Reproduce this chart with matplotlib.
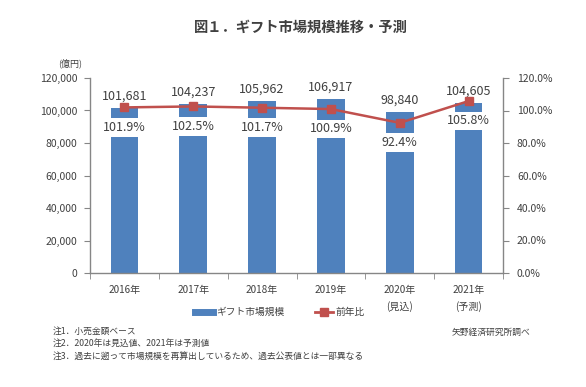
import matplotlib
matplotlib.use("Agg")
import matplotlib.pyplot as plt
from matplotlib.lines import Line2D
from matplotlib.ticker import FuncFormatter, MultipleLocator, FixedLocator

plt.rcParams['font.family'] = ['Noto Sans CJK JP', 'DejaVu Sans']

# データ
years = ['2016年', '2017年', '2018年', '2019年', '2020年\n(見込)', '2021年\n(予測)']
market = [101681, 104237, 105962, 106917, 98840, 104605]
ratio = [101.9, 102.5, 101.7, 100.9, 92.4, 105.8]

bar_color = '#4F81BD'
line_color = '#C0504D'
txt = '#404040'
axis_gray = '#868686'

fig = plt.figure(figsize=(5.86, 3.87), dpi=100)
ax1 = fig.add_axes([90 / 586, 1 - 273 / 387, (503 - 90) / 586, (273 - 78) / 387])
ax2 = ax1.twinx()

x = list(range(len(years)))
ax1.bar(x, market, width=0.4, color=bar_color, zorder=2)
ax1.set_xlim(-0.5, len(years) - 0.5)
ax1.set_ylim(0, 120000)
ax1.yaxis.set_major_locator(MultipleLocator(20000))
ax1.yaxis.set_major_formatter(FuncFormatter(lambda v, p: f'{int(v):,}'))

# 金額ラベル
for i, v in enumerate(market):
    ax1.annotate(f'{v:,}', (i, v), xytext=(0, 8.5), textcoords='offset points',
                 ha='center', va='center', fontsize=9, color=txt, zorder=4)

# 前年比
ax2.set_ylim(0, 120)
ax2.yaxis.set_major_locator(MultipleLocator(20))
ax2.yaxis.set_major_formatter(FuncFormatter(lambda v, p: f'{v:.1f}%'))
for i, r in enumerate(ratio):
    ax2.annotate(f'{r:.1f}%', (i, r), xytext=(0, -14.3), textcoords='offset points',
                 ha='center', va='center', fontsize=9, color=txt, zorder=2,
                 bbox=dict(boxstyle='square,pad=0.22', fc='white', ec='none'))
ax2.plot(x, ratio, color=line_color, lw=1.8, marker='s', markersize=5.5, zorder=3)

# 軸の体裁
ax1.set_xticks(x)
ax1.set_xticklabels(years, fontsize=7.2, color=txt, linespacing=1.6)
ax1.xaxis.set_minor_locator(FixedLocator([i - 0.5 for i in range(len(years) + 1)]))
ax1.tick_params(axis='x', which='major', length=0, pad=9)
ax1.tick_params(axis='x', which='minor', length=4, color=axis_gray, direction='out')
ax1.tick_params(axis='y', length=4, color=axis_gray, labelsize=7.5, labelcolor=txt, pad=5)
ax2.tick_params(axis='y', length=4, color=axis_gray, labelsize=7.5, labelcolor=txt, pad=6)

for s in ['top', 'right']:
    ax1.spines[s].set_visible(False)
for s in ['top', 'left', 'bottom']:
    ax2.spines[s].set_visible(False)
for s in [ax1.spines['left'], ax1.spines['bottom'], ax2.spines['right']]:
    s.set_color(axis_gray)
    s.set_linewidth(1)

# タイトル・注記
fig.text(301 / 586, 1 - 28 / 387, '図１．ギフト市場規模推移・予測', ha='center', va='center',
         fontsize=10.3, fontweight='bold', color=txt)
fig.text(70 / 586, 1 - 63 / 387, '(億円)', ha='center', va='center', fontsize=6.5, color=txt)

handles = [Line2D([0], [0], color=bar_color, lw=5),
           Line2D([0], [0], color=line_color, lw=2, marker='s', markersize=5.5)]
fig.legend(handles, ['ギフト市場規模', '前年比'], loc='center', bbox_to_anchor=(280 / 586, 1 - 312 / 387),
           ncol=2, frameon=False, fontsize=7, handlelength=1.8, handletextpad=0.3,
           columnspacing=3.2, labelcolor=txt)

notes = ['注1．小売金額ベース',
         '注2．2020年は見込値、2021年は予測値',
         '注3．過去に遡って市場規模を再算出しているため、過去公表値とは一部異なる']
for k, n in enumerate(notes):
    fig.text(53 / 586, 1 - (331 + 12.7 * k) / 387, n, ha='left', va='center', fontsize=6.3, color=txt)
fig.text(452 / 586, 1 - 332 / 387, '矢野経済研究所調べ', ha='left', va='center', fontsize=6.3, color=txt)

fig.savefig('out.png', dpi=100)
